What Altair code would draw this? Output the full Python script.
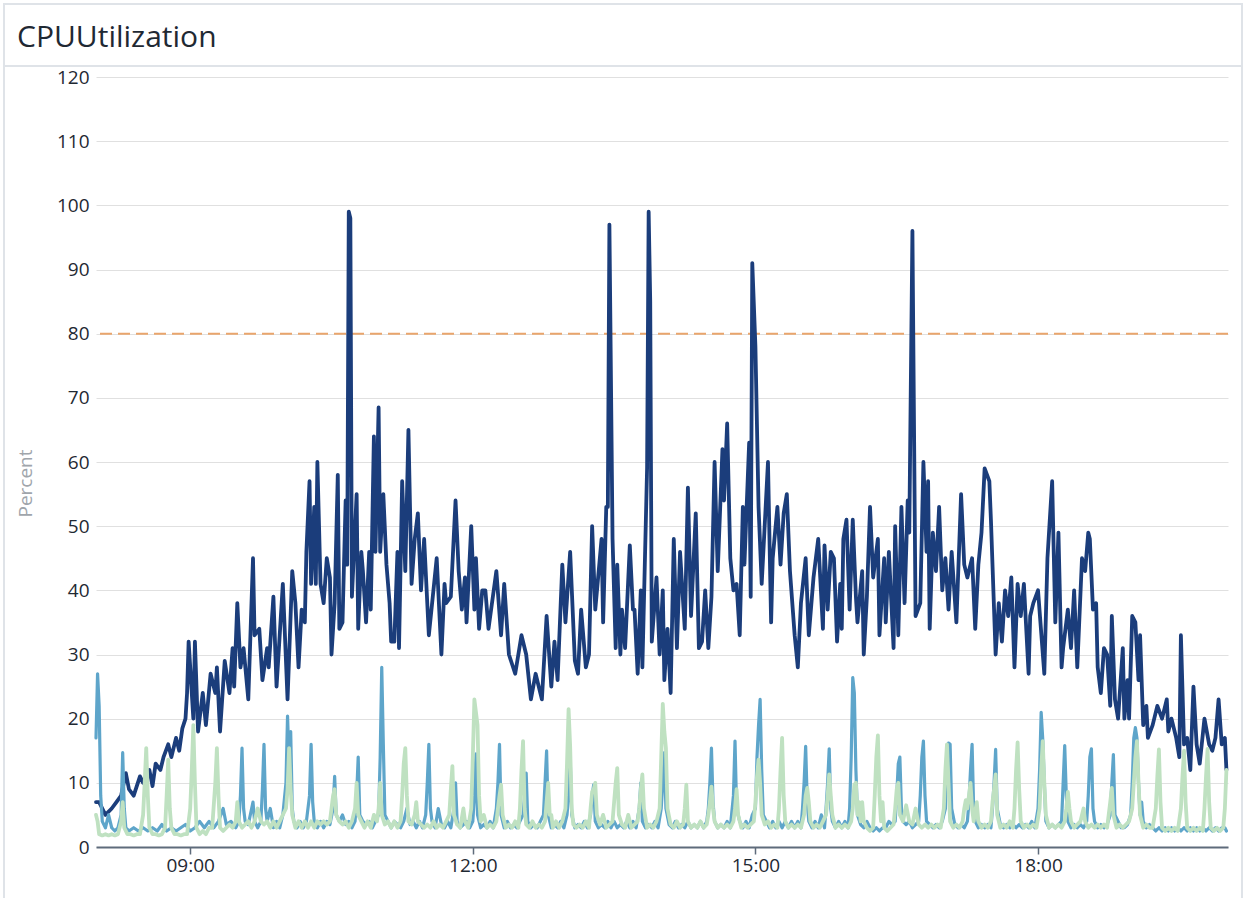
import altair as alt
import pandas as pd

BASE = pd.Timestamp("2024-01-15 08:00:00")

# --- dark series (instance 1): minutes after 08:00 and percent
dark_minutes = [0,2,4,6,10,13,16,19,21,24,28,30,34,36,38,41,43,46,48,51,53,55,57,58,59,62,63,65,68,70,
    73,76,77,79,82,85,87,88,90,92,94,97,100,101,104,106,109,110,113,115,119,122,125,127,129,131,133,134,136,137,
    139,140,141,143,145,147,149,150,152,154,155,157,159,160,161,162,163,166,167,169,170,172,174,175,177,178,180,181,183,185,
    187,188,190,192,193,195,197,199,201,203,205,207,209,212,217,220,222,223,226,229,231,233,235,236,237,239,241,242,244,246,248,
    250,255,258,260,263,267,271,274,277,280,284,287,290,292,294,297,299,302,305,307,309,312,314,316,318,322,323,325,326,327,
    329,331,332,334,335,337,340,342,343,345,347,348,351,352,353,354,357,359,361,362,364,366,368,370,372,375,377,379,382,384,
    386,388,390,392,394,396,399,400,402,404,406,408,410,412,413,416,417,418,420,422,424,428,430,431,434,436,438,440,442,445,
    447,449,452,454,457,460,463,464,466,468,470,472,474,475,476,478,480,482,484,485,488,489,
    491,493,495,498,499,502,503,505,508,509,511,513,515,517,518,520,522,525,527,529,530,531,533,535,537,539,541,543,545,548,
    551,553,555,558,560,562,564,566,569,570,573,575,577,579,581,583,585,587,589,591,594,595,597,600,604,606,609,611,613,615,
    616,619,621,623,625,628,630,632,633,635,637,638,640,642,644,646,647,649,651,654,655,657,658,660,662,664,665,667,669,670,
    673,676,679,682,683,685,688,690,691,693,695,697,699,701,703,706,709,711,713,715,717,719,720]
dark_values = [7,7,6,5,6,7,8,11.5,9,8,11,10,12,9.5,13,12,14,16,14,17,15,18.5,20,24,32,20,32,18,24,19,
    27,24,28,18,29,24,31,25,38,28,31,23,45,33,34,26,31,28,39,25,41,23,43,38,28,37,35,46,57,41,
    53,41,60,41,38,45,42,30,38,58,34,35,54,44,99,98,39,55,34,46,43,35,46,37,64,46,68.5,46,55,44,
    38,32,32,46,31,57,43,65,41,48,52,40,48,33,45,30,41,38,39,54,43,37,42,35,40,50,37,45,34,40,40,
    34,43,33,41,30,27,33,30,23,27,23,36,25,32,26,44,35,46,29,27,37,28,30,50,37,48,35,53,53,97,
    48,31,44,30,37,31,47,37,37,27,40,28,59,99,85,32,42,30,40,26,34,24,48,31,46,34,56,36,52,31,
    32,40,31,39,60,43,62,54,66,45,40,41,33,53,44,63,39,91,78,53,41,60,35,45,53,44,52,55,43,33,
    28,38,45,33,42,48,34,47,37,46,45,32,41,34,48,51,37,51,39,35,43,30,
    39,53,42,48,33,45,35,46,31,50,33,53,38,54,49,96,36,38,60,46,57,34,49,43,53,40,45,37,46,35,
    55,44,42,45,34,44,49,59,57,51,30,38,32,40,36,42,28,41,36,41,27,36,38,40,27,45,57,35,49,28,
    31,37,31,40,28,45,43,49,48,37,38,28,24,31,30,22,36,23,20,31,20,26,20,36,35,26,33,19,22,17,
    19,22,20,23,18,20,17,14,33,16,17,12,25,16,13,20,16,15,17,23,16,17,12]

# --- medium blue series (instance 2): (minute, percent)
blue_points = [(0,17),(1,27),(2,22),(3,8),(4,4),(6,3),(8,5),(10,3),(12,2.5),(14,3),(16,5),(17,14.7),(18,6),(19,3),
    (21,2.5),(24,3),(27,2.5),(30,3),(33,2.5),(36,3),(39,2.5),(42,3.5),(45,2.5),(48,3),(51,2.5),(54,3),(57,3.5),(60,2.5),
    (63,3),(66,4),(69,3),(72,4),(75,3),(78,4),(81,6),(83,3.5),(86,4),(89,3),(91,4),(92,8),(93,15.4),(94,6),(95,4),(97,3.5),
    (100,7),(101,4),(103,3),(105,4),(106,9),(107,16),(108,6),(109,4),(111,6),(113,3),(115,4),(117,3),(119,5),(121,10),
    (122,20.4),(123,13),(124,18),(125,6),(126,4),(128,3),(130,4),(132,3),(134,4),(136,8),(137,16),(138,7),(139,4),(141,3),
    (143,4),(145,3),(147,4),(149,3.5),(151,6),(152,11),(153,5),(155,4),(157,5),(159,3.5),(161,4),(163,3),(165,4),(166,8),
    (167,14),(168,5),(170,4),(172,3.5),(174,4),(176,3),(178,4),(180,5),(181,14),(182,28),(183,16),(184,5),(186,4),(188,3),
    (190,4),(192,3.5),(194,3),(196,4),(198,6),(200,3.5),(202,4),(204,3),(206,4),(208,3),(210,5),(211,10),(212,16),(213,6),
    (214,4),(216,3),(218,6),(220,3.5),(222,3),(224,4),(226,3),(228,6),(229,10),(230,4),(232,3),(234,3.5),(236,4),(238,3),
    (240,4),(241,8),(242,14.5),(243,5),(245,3),(247,3.5),(249,3),(251,4),(253,3),(255,6),(256,10),(257,16),(258,5),(260,3),
    (262,4),(264,3),(266,3.5),(268,3),(270,4),(272,5),(273,8),(274,11.5),(275,4),(277,3),(279,3.5),(281,3),(283,4),(285,5),
    (286,10),(287,15),(288,5),(290,3),(292,3.5),(294,3),(296,4),(298,3),(300,5),(301,8),(302,14),(303,5),(305,3),(307,3.5),
    (309,3),(311,4),(313,3),(315,5),(316,8),(317,9.7),(318,4),(320,3),(322,3.5),(324,3),(326,4),(328,3),(330,4),(332,3),
    (334,3.5),(336,3),(338,4),(340,3),(342,4),(344,3),(346,6),(347,10),(348,4),(350,3),(352,3.5),(354,3),(356,4),(358,3),
    (360,6),(361,10),(362,14.7),(363,6),(365,3.5),(367,3),(369,4),(371,3),(373,3.5),(375,3),(377,4),(379,3),(381,3.5),
    (383,3),(385,4),(387,3),(389,4),(390,6),(391,10),(392,15.4),(393,7),(394,4),(396,3),(398,3.5),(400,3),(402,4),(404,3),
    (406,8),(407,16.5),(408,6),(410,4),(412,3),(414,4),(416,3),(418,5),(420,6),(421,14),(422,19),(423,23),(424,12),(425,5),
    (427,4),(429,3),(431,4),(433,3),(435,4),(437,3),(439,4),(441,3),(443,4),(445,3),(447,4),(449,3),(450,6),(451,10),
    (452,15.7),(453,7),(454,4),(456,3),(458,4),(460,3),(462,5),(464,3),(465,6),(466,10),(467,15.3),(468,6),(469,4),(471,3),
    (473,4),(475,3),(477,4),(479,3),(480,6),(481,14),(482,26.4),(483,24),(484,12),(485,5),(487,3.5),(489,3),(491,4),(493,3),
    (495,2.5),(497,3),(499,2.5),(501,3),(503,3),(505,4),(507,3.5),(509,4),(510,8),(511,13),(512,14),(513,6),(514,4),
    (516,3.5),(518,4),(520,3),(522,3.5),(524,4),(525,8),(526,14),(527,16.5),(528,8),(529,4),(531,3.5),(533,3),(535,3.5),
    (537,3),(539,4),(541,6),(542,15),(543,16.2),(544,16),(545,6),(547,3.5),(549,3),(551,3.5),(553,3),(555,4),(556,7),
    (557,12),(558,16),(559,6),(560,4),(562,3),(564,3.5),(566,3),(568,3.5),(570,3),(571,6),(572,10),(573,15.2),(574,6),
    (576,3.5),(578,3),(580,3.5),(582,3),(584,3.5),(586,3),(588,3.5),(590,3),(592,3.5),(594,3),(596,4),(598,3),(600,6),
    (601,12),(602,21),(603,16.8),(604,10),(605,4),(607,3),(609,3.5),(611,3),(613,3.5),(615,4),(616,10),(617,15.8),(618,8),
    (619,4),(621,3),(623,3.5),(625,3),(627,3.5),(629,3),(631,4),(632,8),(633,14),(634,15.3),(635,6),(636,4),(638,3),
    (640,3.5),(642,3),(644,3.5),(646,5),(647,10),(648,14.4),(649,5),(651,4),(653,3),(655,3),(657,3.5),(659,5),(660,10),
    (661,17),(662,18.6),(663,17),(664,10),(665,5),(666,7),(667,4),(669,3),(671,3.5),(673,3),(675,2.5),(677,3),(679,2.5),
    (681,3),(683,2.5),(685,3),(687,2.5),(689,3),(691,2.5),(693,3),(695,2.5),(697,3),(699,2.5),(701,3),(703,2.5),(705,3),
    (707,2.5),(709,3),(711,2.5),(713,3),(715,2.5),(717,3),(719,3),(720,2.5)]

# --- light green series (instance 3): (minute, percent)
green_points = [(0,5),(1,4),(2,2),(4,1.8),(6,2),(8,1.8),(10,2),(12,1.8),(14,2),(16,4),(17,7),(18,3),(20,2),(22,2),
    (24,1.8),(26,2),(28,2),(30,5),(31,10),(32,15.4),(33,8),(34,3),(36,2),(38,2),(40,1.8),(42,2),(44,3),(45,8),(46,13.6),
    (47,6),(48,3),(50,2),(52,2),(54,1.8),(56,2),(58,2),(60,6),(61,12),(62,19),(63,10),(64,3),(66,2),(68,2.5),(70,2),(72,3),
    (74,3),(76,10),(77,15.4),(78,8),(79,3),(81,2.5),(83,3),(85,3.5),(87,3),(89,4),(90,7),(91,4),(93,3),(95,3.5),(97,4),
    (99,3),(101,4),(103,6),(105,4),(107,3.5),(109,4),(111,3),(113,4),(115,3),(117,4),(119,5),(121,6),(122,9),(123,15.4),
    (124,9),(125,5),(127,3),(129,4),(131,3),(133,4),(135,3),(137,4),(139,3),(141,4),(143,3.5),(145,4),(147,3.5),(149,4),
    (150,6),(151,8),(152,9),(153,5),(155,4),(157,3.5),(159,4),(161,3),(163,4),(165,6),(166,10),(167,5),(169,4),(171,3),
    (173,4),(175,3),(177,5),(179,4),(180,6),(181,10),(182,5),(184,3.5),(186,4),(188,3),(190,4),(192,3),(194,4),(195,8),
    (196,13),(197,15.4),(198,8),(199,4),(201,3.5),(203,5),(204,7),(205,4),(207,3.5),(209,3),(211,3.5),(213,3),(215,4),
    (217,3),(219,3.5),(221,3),(223,4),(225,5),(226,9),(227,12.6),(228,5),(230,3.5),(232,3),(234,6),(235,4),(237,3),(239,6),
    (240,14),(241,23),(242,21),(243,19),(244,8),(245,4),(247,5),(249,3),(251,3.5),(253,3),(255,4),(256,6),(257,8),(258,9.7),
    (259,5),(261,3),(263,3.5),(265,3),(267,4),(269,3),(270,6),(271,12),(272,16.5),(273,6),(274,3.5),(276,3),(278,4),(280,3),
    (282,3.5),(284,3),(286,4),(287,7),(288,10),(289,5),(290,5),(291,3),(293,4),(295,3),(297,4),(299,6),(300,13),(301,21.5),
    (302,15.7),(303,6),(304,3.5),(306,3),(308,3.5),(310,3),(312,4),(314,3),(315,6),(316,8.6),(317,9),(318,10),(319,5),
    (321,3.5),(323,5),(325,3),(327,3.5),(329,4),(330,7),(331,10),(332,12.3),(333,5),(335,3.5),(337,3),(339,5),(341,3),
    (343,3.5),(345,4),(346,6),(347,9),(348,11.3),(349,6),(351,3),(353,3.5),(355,3),(357,4),(359,6),(360,14),(361,22.3),
    (362,18),(363,15.4),(364,6),(366,3.5),(368,3),(370,4),(372,3),(374,3.5),(375,6),(376,9.7),(377,4),(379,3),(381,3.5),
    (383,3),(385,4),(387,3),(389,3.5),(390,5),(391,7),(392,9.4),(393,6),(394,4),(396,3),(398,3.5),(400,3),(402,3.5),(404,3),
    (406,4),(407,6),(408,9),(409,5),(411,3),(413,3.5),(415,3),(417,3.5),(419,4),(420,7),(421,11),(422,13.6),(423,10),
    (424,5),(426,3.5),(428,4),(430,3),(432,3.5),(434,3),(435,6),(436,12),(437,17),(438,8),(439,4),(441,3),(443,3.5),(445,3),
    (447,3.5),(449,3),(451,5),(452,8),(453,9.2),(454,7),(455,4),(457,3),(459,3.5),(461,3),(463,4),(465,5),(466,8),(467,11.3),
    (468,8),(469,5),(471,3),(473,3.5),(475,3),(477,3.5),(479,3),(481,4),(482,6),(483,9.7),(484,10),(485,5),(486,7),(487,4),
    (488,7),(489,4),(491,3),(493,2.5),(495,3),(496,8),(497,14),(498,17.4),(499,8),(500,4),(501,7),(502,3),(504,2.5),(506,3),
    (508,3.5),(509,6),(510,9),(511,10),(512,5),(514,4),(516,6.5),(518,4),(520,3.5),(522,6),(524,3.5),(526,3),(528,3.5),
    (530,3),(532,3.5),(534,3),(536,3.5),(538,3),(540,6),(541,12),(542,16),(543,10),(544,4),(546,3),(548,3.5),(550,3),(552,4),
    (553,6),(554,7.3),(555,6),(556,8),(557,10),(558,6),(559,4),(561,7),(562,4),(564,3),(566,3.5),(568,3),(570,4),(571,7),
    (572,9),(573,11.3),(574,5),(576,3),(578,3.5),(580,3),(582,4),(584,3),(585,6),(586,12),(587,16.3),(588,9),(589,4),(591,3),
    (593,3.5),(595,3),(597,3.5),(599,3),(601,6),(602,12),(603,16.5),(604,10),(605,5),(607,3),(609,3.5),(611,3),(613,3.5),
    (615,3),(617,4),(618,6),(619,8.6),(620,6),(621,4),(623,3),(625,3.5),(627,4),(629,6),(630,4),(632,3),(634,3.5),(636,3),
    (638,3.5),(640,3),(642,3.5),(644,3),(645,5),(646,7),(647,9.2),(648,5),(650,3),(652,3.5),(654,3),(656,3.5),(658,4),
    (660,6),(661,10),(662,14),(663,16.5),(664,10),(665,5),(667,3),(669,3.5),(671,3),(673,3),(675,6),(676,11),(677,15.2),
    (678,7),(679,3),(681,2.5),(683,3),(685,2.5),(687,3),(689,2.5),(691,6),(692,11),(693,15),(694,7),(695,3),(697,2.5),
    (699,3),(701,2.5),(703,3),(705,2.5),(706,6),(707,11),(708,15.3),(709,7),(710,3),(712,2.5),(714,3),(716,2.5),(718,3),
    (719,6),(720,12)]

THRESHOLD = 80
Y_TICKS = list(range(0, 121, 10))
X_TICK_HOURS = [9, 12, 15, 18]
COLORS = {"dark": "#1b3d7b", "blue": "#5ea5ca", "green": "#bfe1c1"}


def ts(m):
    return (BASE + pd.Timedelta(minutes=m)).strftime("%Y-%m-%dT%H:%M:%S")


rows = []
for m, v in zip(dark_minutes, dark_values):
    rows.append({"t": ts(m), "v": v, "s": "dark"})
for m, v in blue_points:
    rows.append({"t": ts(m), "v": v, "s": "blue"})
for m, v in green_points:
    rows.append({"t": ts(m), "v": v, "s": "green"})
df = pd.DataFrame(rows)

FONT = "Open Sans"
x_enc = alt.X(
    "t:T",
    title=None,
    scale=alt.Scale(domain=[alt.DateTime(year=2024, month=1, date=15, hours=8, minutes=0),
                            alt.DateTime(year=2024, month=1, date=15, hours=20, minutes=1)]),
    axis=alt.Axis(
        values=[alt.DateTime(year=2024, month=1, date=15, hours=h, minutes=0) for h in X_TICK_HOURS],
        format="%H:%M", grid=False, domainColor="#5e6b7b", domainWidth=2, tickColor="#5e6b7b",
        tickSize=7, tickWidth=1.5, labelFontSize=19, labelColor="#1f2933", labelFont=FONT,
        labelPadding=2,
    ),
)
y_enc = alt.Y(
    "v:Q",
    scale=alt.Scale(domain=[0, 120], nice=False),
    axis=alt.Axis(
        values=Y_TICKS, grid=True, gridColor="#e0e0e0", gridWidth=1, domain=False, ticks=False,
        labelPadding=7, labelFontSize=19, labelColor="#1f2933", labelFont=FONT,
        title="Percent", titleColor="#a0a5ab", titleFontSize=19, titleFont=FONT,
        titleFontWeight="normal", titleX=-71, titleY=406, titleAngle=270, titleAlign="center",
        titleBaseline="middle",
    ),
)

frame_df = pd.DataFrame({"label": ["CPUUtilization"]})

frame = alt.Chart(frame_df).mark_rect(fillOpacity=0, stroke="#dfe3e8", strokeWidth=2).encode(
    x=alt.value(-92), x2=alt.value(1146), y=alt.value(-73), y2=alt.value(860)
)
header_line = alt.Chart(frame_df).mark_rule(stroke="#dfe3e8", strokeWidth=2).encode(
    x=alt.value(-92), x2=alt.value(1146), y=alt.value(-11)
)
title = alt.Chart(frame_df).mark_text(
    align="left", baseline="alphabetic", fontSize=30, font=FONT, color="#1f2933"
).encode(text="label:N", x=alt.value(-79), y=alt.value(-30))

threshold = alt.Chart(pd.DataFrame({"v": [THRESHOLD]})).mark_rule(
    color="#e9a56c", strokeWidth=2, strokeDash=[12, 6]
).encode(y=alt.Y("v:Q"))

lines = []
for name, width in [("dark", 3.8), ("blue", 3.2), ("green", 3.8)]:
    lines.append(
        alt.Chart(df).transform_filter(alt.datum.s == name).mark_line(
            color=COLORS[name], strokeWidth=width, strokeJoin="round", strokeCap="round"
        ).encode(x=x_enc, y=y_enc)
    )

chart = alt.layer(frame, header_line, title, threshold, *lines).properties(
    width=1132, height=770,
    autosize=alt.AutoSizeParams(type="none"),
    padding={"left": 96, "top": 77, "right": 18, "bottom": 51},
    background="white",
).configure_view(strokeWidth=0)

chart.save("out.html", embed_options={"renderer": "svg", "actions": False})
